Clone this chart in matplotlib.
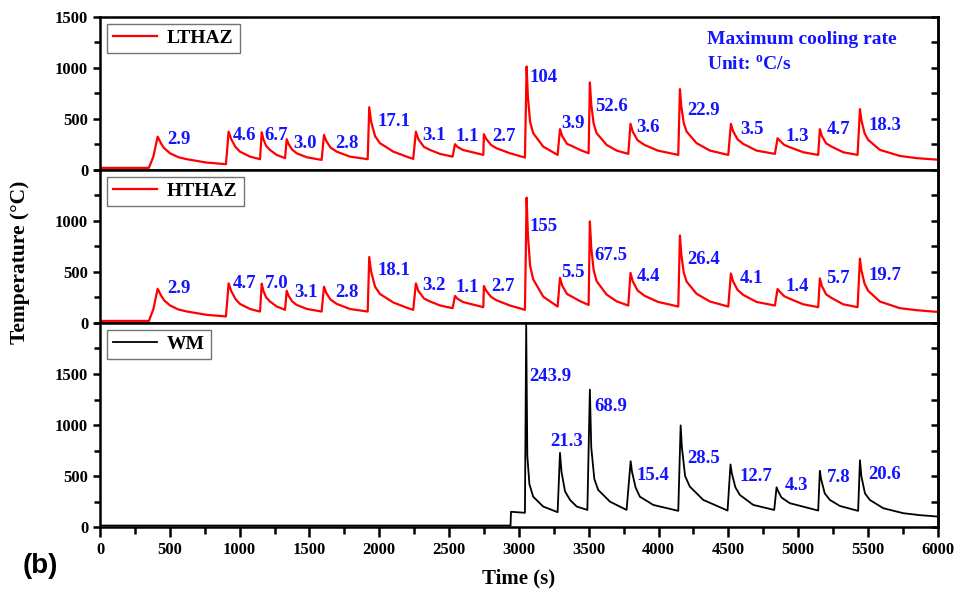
### modules ###

import matplotlib
matplotlib.use('Agg')
from matplotlib import pyplot as plt
from matplotlib.ticker import MultipleLocator

### config ###

config = {
    'font.family': ['Liberation Serif', 'DejaVu Serif'],
    'font.weight': 'bold',
    'font.size': 12,
    'axes.linewidth': 1.8,
    'mathtext.fontset': 'custom',
    'mathtext.rm': 'Liberation Serif:bold',
    'mathtext.bf': 'Liberation Serif:bold',
}
plt.rcParams.update(config)

### data ###

# time axis shared by both HAZ thermal cycles (s)
t_haz = [0, 350, 382, 413, 436, 458, 501, 560, 620, 763, 902,
         921, 940, 970, 1002, 1074, 1146,
         1158, 1170, 1190, 1217, 1265, 1325,
         1337, 1350, 1375, 1408, 1480, 1587,
         1604, 1620, 1650, 1695, 1790, 1917,
         1928, 1942, 1970, 2005, 2100, 2196, 2243,
         2262, 2280, 2320, 2363, 2434, 2525,
         2542, 2560, 2600, 2649, 2745,
         2749, 2765, 2800, 2840, 2936, 3043,
         3055, 3064, 3080, 3102, 3174, 3277,
         3294, 3310, 3345, 3389, 3437, 3499,
         3508, 3518, 3535, 3556, 3628, 3700, 3783,
         3799, 3815, 3850, 3899, 3995, 4141,
         4153, 4163, 4180, 4201, 4272, 4368, 4499,
         4518, 4532, 4565, 4606, 4702, 4833,
         4852, 4866, 4900, 4940, 5036, 5143,
         5155, 5170, 5200, 5239, 5322, 5425,
         5442, 5452, 5475, 5501, 5585, 5728, 5850, 6000]

T_lthaz = [20, 20, 130, 326, 262, 215, 163, 125, 105, 72, 56,
           375, 300, 225, 179, 130, 105,
           369, 300, 235, 196, 147, 115,
           301, 255, 200, 163, 124, 98,
           343, 285, 220, 179, 130, 105,
           614, 470, 330, 262, 179, 130, 108,
           375, 300, 225, 196, 157, 130,
           252, 225, 195, 179, 147,
           350, 305, 245, 212, 163, 121,
           1013, 720, 470, 360, 228, 147,
           399, 330, 255, 228, 196, 163,
           856, 640, 455, 360, 245, 189, 157,
           451, 375, 290, 245, 189, 147,
           791, 620, 460, 375, 262, 189, 147,
           451, 385, 300, 255, 189, 157,
           311, 290, 245, 222, 173, 147,
           399, 330, 260, 228, 173, 147,
           595, 490, 360, 294, 196, 137, 115, 100]

T_hthaz = [20, 20, 135, 335, 272, 224, 172, 133, 113, 80, 64,
           388, 312, 235, 187, 137, 112,
           385, 314, 250, 211, 162, 129,
           316, 268, 213, 177, 138, 112,
           355, 296, 230, 187, 137, 112,
           646, 500, 355, 284, 201, 150, 129,
           388, 314, 240, 211, 172, 145,
           265, 237, 205, 188, 155,
           362, 318, 256, 222, 171, 129,
           1228, 870, 560, 428, 258, 161,
           442, 365, 283, 251, 214, 177,
           995, 735, 520, 410, 278, 212, 171,
           491, 408, 318, 267, 207, 161,
           857, 670, 495, 405, 286, 210, 161,
           485, 413, 325, 275, 206, 171,
           333, 310, 262, 237, 183, 155,
           436, 360, 280, 245, 183, 155,
           630, 520, 385, 315, 210, 145, 125, 108]

t_wm = [0, 2940, 2943, 3043, 3052, 3060, 3075, 3102, 3174, 3277,
        3294, 3305, 3330, 3366, 3414, 3490,
        3508, 3518, 3540, 3568, 3652, 3771,
        3800, 3810, 3835, 3866, 3962, 4141,
        4158, 4167, 4190, 4224, 4320, 4494,
        4515, 4524, 4550, 4582, 4678, 4828,
        4845, 4855, 4880, 4940, 5143,
        5155, 5164, 5190, 5227, 5298, 5429,
        5442, 5452, 5478, 5513, 5609, 5752, 5870, 6000]

T_wm = [15, 15, 150, 140, 1985, 700, 420, 298, 201, 146,
        727, 540, 350, 266, 201, 168,
        1347, 780, 470, 363, 249, 168,
        646, 540, 390, 298, 217, 159,
        996, 780, 500, 396, 266, 162,
        614, 530, 390, 315, 217, 168,
        390, 355, 290, 234, 162,
        551, 470, 330, 266, 207, 159,
        655, 500, 330, 266, 185, 136, 117, 103]

# maximum cooling rates (oC/s) and where they are written
rate_lthaz = ['2.9', '4.6', '6.7', '3.0', '2.8', '17.1', '3.1', '1.1', '2.7',
              '104', '3.9', '52.6', '3.6', '22.9', '3.5', '1.3', '4.7', '18.3']
lab_t_lthaz = [485, 950, 1176, 1384, 1683, 1988, 2310, 2549, 2809,
               3079, 3306, 3544, 3842, 4205, 4582, 4912, 5203, 5501]
lab_T_lthaz = [294, 333, 333, 262, 262, 473, 333, 326, 326,
               905, 451, 620, 415, 578, 399, 326, 392, 431]

rate_hthaz = ['2.9', '4.7', '7.0', '3.1', '2.8', '18.1', '3.2', '1.1', '2.7',
              '155', '5.5', '67.5', '4.4', '26.4', '4.1', '1.4', '5.7', '19.7']
lab_t_hthaz = [485, 950, 1181, 1391, 1683, 1988, 2310, 2549, 2800,
               3079, 3306, 3539, 3842, 4205, 4582, 4912, 5203, 5501]
lab_T_hthaz = [339, 387, 387, 296, 296, 516, 371, 348, 361,
               942, 490, 661, 451, 620, 435, 361, 435, 467]

rate_wm = ['243.9', '21.3', '68.9', '15.4', '28.5', '12.7', '4.3', '7.8', '20.6']
lab_t_wm = [3074, 3227, 3539, 3842, 4205, 4578, 4904, 5203, 5501]
lab_T_wm = [1474, 834, 1184, 503, 672, 493, 412, 487, 519]

### figure ###

fig = plt.figure(figsize=(9.57, 6.01), dpi=100)
gs = fig.add_gridspec(3, 1, height_ratios=[1500, 1500, 2000], hspace=0,
                      left=0.1045, right=0.980, top=0.972, bottom=0.123)
axes = [fig.add_subplot(gs[i]) for i in range(3)]

blue = '#1414ff'
panels = [
    (t_haz, T_lthaz, 'red', 1.6, 'LTHAZ', 1500, [0, 500, 1000, 1500],
     rate_lthaz, lab_t_lthaz, lab_T_lthaz),
    (t_haz, T_hthaz, 'red', 1.6, 'HTHAZ', 1500, [0, 500, 1000],
     rate_hthaz, lab_t_hthaz, lab_T_hthaz),
    (t_wm, T_wm, 'black', 1.3, 'WM', 2000, [0, 500, 1000, 1500],
     rate_wm, lab_t_wm, lab_T_wm),
]

for ax, (t, T, c, lw, name, ytop, yt, rates, lt, lT) in zip(axes, panels):
    ax.plot(t, T, color=c, lw=lw, label=name)
    ax.set_xlim(0, 6000)
    ax.set_ylim(0, ytop)
    ax.set_yticks(yt)
    ax.yaxis.set_minor_locator(MultipleLocator(250))
    ax.tick_params(axis='y', which='both', direction='out', left=True, right=False,
                   width=1.8, labelsize=12)
    ax.tick_params(axis='y', which='major', length=5)
    ax.tick_params(axis='y', which='minor', length=4)
    # inward ticks on the right side
    sec = ax.secondary_yaxis('right')
    sec.set_yticks(list(range(500, ytop, 500)))
    sec.yaxis.set_minor_locator(MultipleLocator(250))
    sec.tick_params(which='both', direction='in', length=5, width=1.8, labelright=False)
    sec.spines['right'].set_linewidth(1.8)
    for lab, x, y in zip(rates, lt, lT):
        ax.text(x, y, lab, color=blue, fontsize=13.5, fontweight='bold',
                ha='left', va='center')
    leg = ax.legend(loc='upper left', fancybox=False, edgecolor='0.45',
                    framealpha=1, fontsize=14, handlelength=2.3,
                    handletextpad=0.5, borderpad=0.3, borderaxespad=0.35)
    leg.get_frame().set_linewidth(1.0)

for ax in axes[:2]:
    ax.tick_params(axis='x', which='both', bottom=False, top=False, labelbottom=False)

ax = axes[2]
ax.set_xticks(range(0, 6001, 500))
ax.xaxis.set_minor_locator(MultipleLocator(250))
ax.tick_params(axis='x', which='both', direction='out', width=1.8, labelsize=12)
ax.tick_params(axis='x', which='major', length=7)
ax.tick_params(axis='x', which='minor', length=5)
ax.set_xlabel('Time (s)', fontsize=15, fontweight='bold', labelpad=8)

axes[0].text(0.725, 0.855, 'Maximum cooling rate', transform=axes[0].transAxes,
             color=blue, fontsize=14, fontweight='bold', ha='left', va='center')
axes[0].text(0.725, 0.685, r'Unit: $^{\rm o}$C/s', transform=axes[0].transAxes,
             color=blue, fontsize=14, fontweight='bold', ha='left', va='center')

fig.text(20 / 957, 1 - 262 / 601, 'Temperature (°C)', rotation=90,
         fontsize=15.5, fontweight='bold', ha='center', va='center')
fig.text(40 / 957, 1 - 566 / 601, '(b)', fontsize=20, fontweight='bold',
         family='Liberation Sans', ha='center', va='center')

plt.savefig('out.png', dpi=100)
